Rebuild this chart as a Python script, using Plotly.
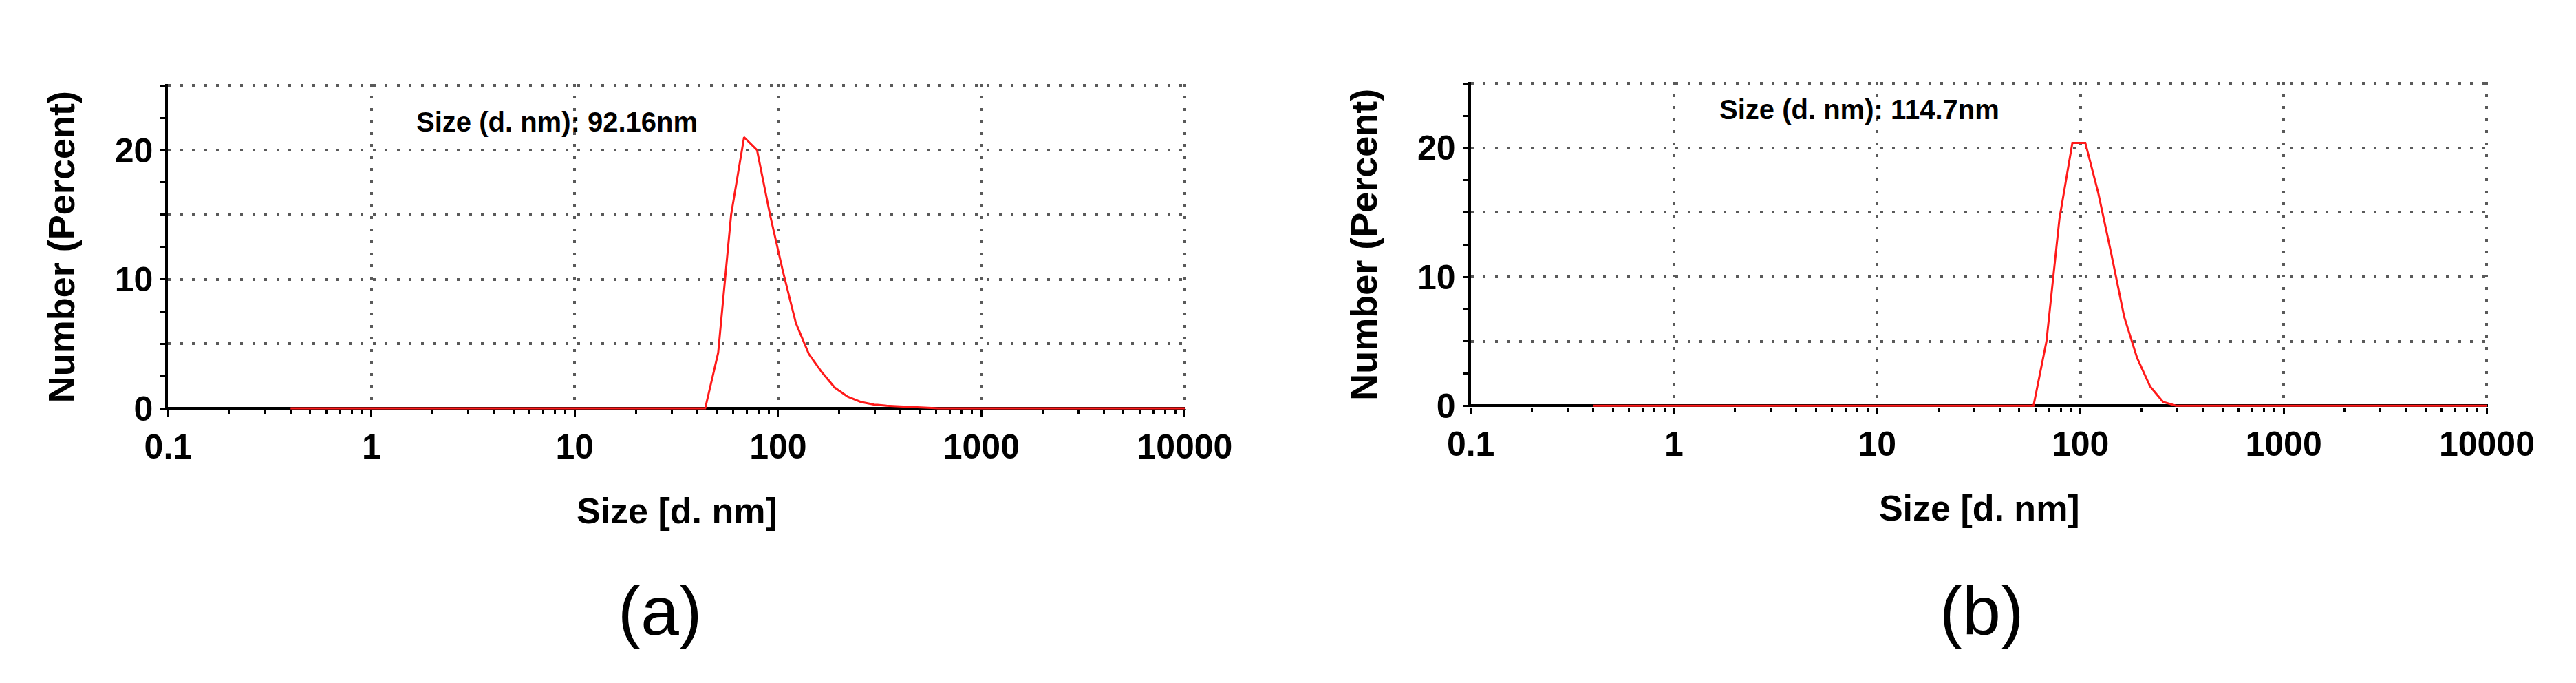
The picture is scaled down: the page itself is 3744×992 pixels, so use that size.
import plotly.graph_objects as go

# DLS size bins (d. nm) shared by both measurements
sizes = [0.4, 0.4632, 0.5365, 0.6213, 0.7195, 0.8332, 0.9649, 1.117, 1.294, 1.499,
         1.736, 2.01, 2.328, 2.696, 3.122, 3.615, 4.187, 4.849, 5.615, 6.503,
         7.531, 8.721, 10.1, 11.7, 13.54, 15.69, 18.17, 21.04, 24.36, 28.21,
         32.67, 37.84, 43.82, 50.75, 58.77, 68.06, 78.82, 91.28, 105.7, 122.4,
         141.8, 164.2, 190.1, 220.2, 255.0, 295.3, 342.0, 396.1, 458.7, 531.2,
         615.1, 712.4, 825.0, 955.4, 1106, 1281, 1484, 1718, 1990, 2305,
         2669, 3091, 3580, 4145, 4801, 5560, 6439, 7456, 8635, 10000]

# number distribution (%) for sample (a)
number_a = [0, 0, 0, 0, 0, 0, 0, 0, 0, 0,
            0, 0, 0, 0, 0, 0, 0, 0, 0, 0,
            0, 0, 0, 0, 0, 0, 0, 0, 0, 0,
            0, 0, 0, 4.3, 15.0, 21.0, 20.0, 15.0, 10.6, 6.6,
            4.2, 2.8, 1.6, 0.9, 0.5, 0.3, 0.2, 0.15, 0.1, 0.05,
            0, 0, 0, 0, 0, 0, 0, 0, 0, 0,
            0, 0, 0, 0, 0, 0, 0, 0, 0, 0]

# number distribution (%) for sample (b)
number_b = [0, 0, 0, 0, 0, 0, 0, 0, 0, 0,
            0, 0, 0, 0, 0, 0, 0, 0, 0, 0,
            0, 0, 0, 0, 0, 0, 0, 0, 0, 0,
            0, 0, 0, 0, 0, 5.0, 14.5, 20.4, 20.4, 16.5,
            11.8, 6.9, 3.7, 1.5, 0.3, 0, 0, 0, 0, 0,
            0, 0, 0, 0, 0, 0, 0, 0, 0, 0,
            0, 0, 0, 0, 0, 0, 0, 0, 0, 0]

peak_labels = ["Size (d. nm): 92.16nm", "Size (d. nm): 114.7nm"]
panel_labels = ["(a)", "(b)"]

x_ticks = [0.1, 1, 10, 100, 1000, 10000]
x_ticktext = ["0.1", "1", "10", "100", "1000", "10000"]
x_minor = [m * d for d in [0.1, 1, 10, 100, 1000] for m in range(2, 10)]
y_ticks = [0, 5, 10, 15, 20, 25]
y_ticktext = ["0", "", "10", "", "20", ""]
y_minor = [2.5, 7.5, 12.5, 17.5, 22.5]

FONT = "Arial, Liberation Sans, sans-serif"
GRID = "#5a5a5a"

fig = go.Figure()
for i, ys in enumerate([number_a, number_b]):
    sfx = "" if i == 0 else "2"
    fig.add_trace(go.Scatter(
        x=sizes, y=ys, mode="lines",
        line=dict(color="#ff1a1a", width=3),
        cliponaxis=False, showlegend=False,
        xaxis="x" + sfx, yaxis="y" + sfx,
    ))

axis_common = dict(
    linecolor="black", linewidth=4,
    ticks="outside", tickcolor="black", tickwidth=3,
    showgrid=True, gridcolor=GRID, gridwidth=4, griddash="4px,13.5px",
    layer="below traces",
    tickfont=dict(family=FONT, size=50, color="black", weight="bold"),
)

# x axis line is replaced by the y zero line so the red baseline sits on it
x_common = dict(
    axis_common, type="log", range=[-1, 4.005], showline=False, zeroline=False,
    tickvals=x_ticks, ticktext=x_ticktext, ticklen=10,
    minor=dict(tickvals=x_minor, ticks="outside", ticklen=6, tickwidth=2.5,
               tickcolor="black", showgrid=False),
    title=dict(text="Size [d. nm]", standoff=47,
               font=dict(family=FONT, size=52, color="black", weight="bold")),
)

y_common = dict(
    axis_common, range=[-0.12, 25.12], showline=True,
    zeroline=True, zerolinecolor="black", zerolinewidth=4,
    tickvals=y_ticks, ticktext=y_ticktext, ticklen=8,
    minor=dict(tickvals=y_minor, ticks="outside", ticklen=8, tickwidth=3,
               tickcolor="black", showgrid=False),
    title=dict(text="Number (Percent)", standoff=42,
               font=dict(family=FONT, size=54, color="black", weight="bold")),
)

fig.update_layout(
    width=3744, height=992,
    margin=dict(l=0, r=0, t=0, b=0),
    paper_bgcolor="white", plot_bgcolor="white",
    xaxis=dict(x_common, domain=[0.0553, 0.4615], anchor="y"),
    yaxis=dict(y_common, domain=[0.392, 0.882], anchor="x"),
    xaxis2=dict(x_common, domain=[0.5753, 0.9813], anchor="y2"),
    yaxis2=dict(y_common, domain=[0.396, 0.885], anchor="x2"),
)

# peak size labels inside each panel
for i, (txt, y) in enumerate(zip(peak_labels, [22.2, 23.0])):
    sfx = "" if i == 0 else "2"
    fig.add_annotation(
        x=0.912, y=y, xref="x" + sfx, yref="y" + sfx, text=txt,
        showarrow=False, xanchor="center", yanchor="middle",
        font=dict(family=FONT, size=40, color="black", weight="bold"),
    )

# panel letters below the plots
for i, (txt, xd) in enumerate(zip(panel_labels, [0.483, 0.502])):
    sfx = "" if i == 0 else "2"
    fig.add_annotation(
        x=xd, y=0.0897, xref="x" + sfx + " domain", yref="paper", text=txt,
        showarrow=False, xanchor="center", yanchor="middle",
        font=dict(family=FONT, size=100, color="black"),
    )

fig.write_html("out.html")
